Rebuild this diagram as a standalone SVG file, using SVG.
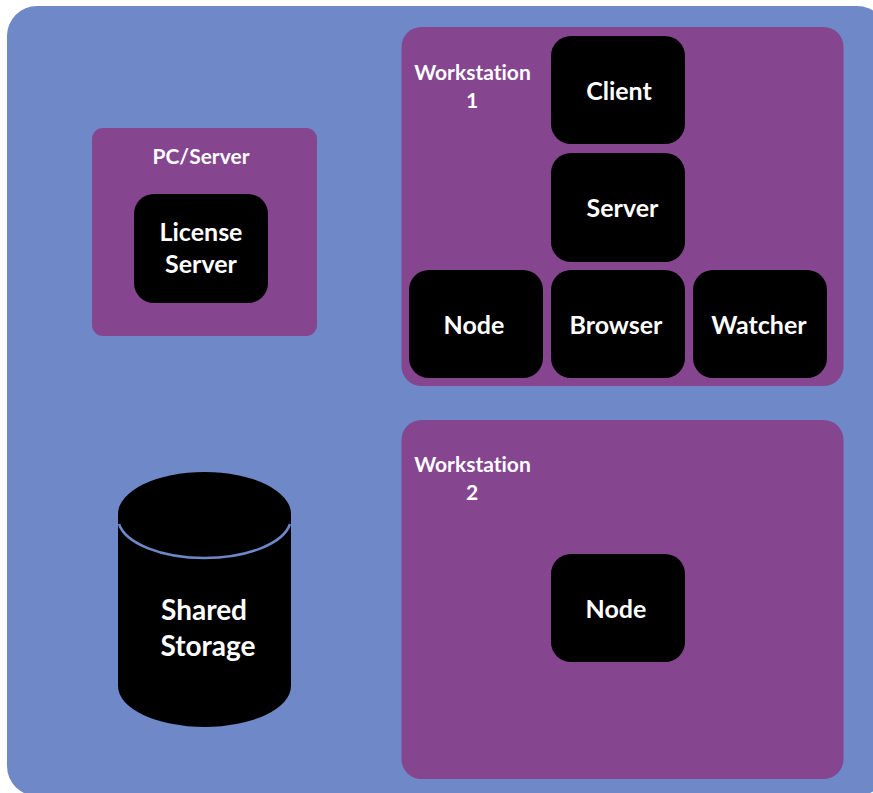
<svg xmlns="http://www.w3.org/2000/svg" width="873" height="793" viewBox="0 0 873 793">
<style>
.bg{fill:#6f88c8}
.panel{fill:#85458f}
.box{fill:#000}
text{font-family:"Lato","Open Sans",sans-serif;font-weight:700;fill:#fff;text-anchor:middle;font-variant-ligatures:none}
.n{font-size:25px}
.l{font-size:21px}
.s{font-size:28px}
</style>
<rect width="873" height="793" fill="#fff"/>
<rect class="bg" x="7" y="6" width="880" height="790" rx="30"/>
<g id="pc-server">
<rect class="panel" x="92" y="128" width="225" height="208" rx="11"/>
<text class="l" x="201" y="164">PC/Server</text>
</g>
<g id="license-server">
<rect class="box" x="134" y="194" width="134" height="109" rx="20"/>
<text class="n" x="201" y="241">License</text>
<text class="n" x="201" y="273">Server</text>
</g>
<g id="workstation-1">
<rect class="panel" x="401.500" y="27" width="442" height="359" rx="20"/>
<text class="l" x="472.500" y="80">Workstation</text>
<text class="l" x="472" y="108">1</text>
</g>
<g id="client"><rect class="box" x="551" y="36" width="134" height="108" rx="20"/><text class="n" x="619" y="100">Client</text></g>
<g id="server"><rect class="box" x="551" y="153" width="134" height="109" rx="20"/><text class="n" x="622.500" y="217">Server</text></g>
<g id="node-1"><rect class="box" x="409" y="270" width="134" height="108" rx="20"/><text class="n" x="474" y="334">Node</text></g>
<g id="browser"><rect class="box" x="551" y="270" width="134" height="108" rx="20"/><text class="n" x="616" y="334">Browser</text></g>
<g id="watcher"><rect class="box" x="693" y="270" width="134" height="108" rx="20"/><text class="n" x="759" y="334">Watcher</text></g>
<g id="workstation-2">
<rect class="panel" x="401.500" y="420" width="442" height="359" rx="20"/>
<text class="l" x="472.500" y="472">Workstation</text>
<text class="l" x="472" y="500">2</text>
</g>
<g id="node-2"><rect class="box" x="551" y="554" width="134" height="108" rx="20"/><text class="n" x="616" y="618">Node</text></g>
<g id="shared-storage">
<path class="box" d="M118 514A86.500 42 0 0 1 291 514V686A86.500 41 0 0 1 118 686Z"/>
<path d="M119 524A86.500 40 0 0 0 290 524" fill="none" stroke="#6f88c8" stroke-width="2.500"/>
<text class="s" x="204" y="620">Shared</text>
<text class="s" x="208" y="656">Storage</text>
</g>
<g id="connectors"></g>
</svg>
